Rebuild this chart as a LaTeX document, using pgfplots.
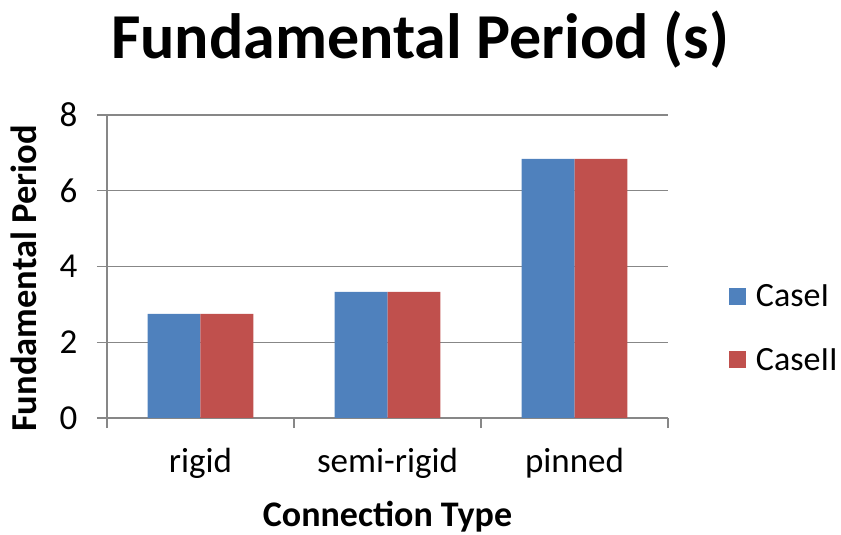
\documentclass[border=0pt]{standalone}
\usepackage{pgfplots}
\pgfplotsset{compat=1.18}
\usepackage{fontspec}
\setmainfont{Carlito}
\definecolor{cblue}{HTML}{4F81BD}
\definecolor{cred}{HTML}{C0504D}
\definecolor{axgray}{HTML}{878787}
\begin{document}
\begin{tikzpicture}
\useasboundingbox (-107pt,-117pt) rectangle (734pt,418pt);
\begin{axis}[
  at={(0pt,0pt)}, anchor=south west,
  scale only axis, width=561pt, height=303pt,
  xmin=-0.5, xmax=2.5, ymin=0, ymax=8,
  ytick={0,2,4,6,8},
  xtick={0,1,2},
  xticklabels={rigid,semi-rigid,pinned},
  minor xtick={-0.5,0.5,1.5,2.5},
  axis x line*=bottom, axis y line*=left,
  axis line style={axgray, line width=1.2pt, -},
  tick align=outside,
  major tick length=10pt, minor tick length=10pt,
  major x tick style={draw=none},
  minor x tick style={axgray, line width=1.2pt},
  y tick style={axgray, line width=1.2pt},
  ymajorgrids, grid style={axgray, line width=1.2pt},
  /pgf/number format/assume math mode=true,
  tick label style={font=\fontsize{35}{35}\selectfont, text=black},
  yticklabel style={xshift=-16pt},
  xticklabel style={yshift=-17pt},
  ylabel={\textbf{Fundamental Period}},
  xlabel={\textbf{Connection Type}},
  ylabel style={font=\fontsize{36.5}{36.5}\selectfont, at={(axis description cs:0,0.5)}, anchor=south, yshift=67pt, xshift=-12pt},
  xlabel style={font=\fontsize{36}{36}\selectfont, at={(axis description cs:0.5,0)}, anchor=north, yshift=-80pt},
  ybar=0pt, bar width=0.283,
  legend style={draw=none, fill=none, at={(1.103,0.297)}, anchor=west,
    font=\fontsize{34}{34}\selectfont, row sep=36pt,
    legend cell align=left,
    /tikz/every odd column/.append style={column sep=8pt}},
  legend image code/.code={\fill[#1,draw=none] (0pt,-8.5pt) rectangle (17pt,8.5pt);},
]
\addplot[fill=cblue, draw=none] coordinates {(0,2.75) (1,3.33) (2,6.84)};
\addplot[fill=cred, draw=none] coordinates {(0,2.75) (1,3.33) (2,6.84)};
\legend{CaseI,CaseII}
\end{axis}
\node[font=\fontsize{64}{64}\selectfont\bfseries] at (313pt,378pt) {Fundamental Period (s)};
\end{tikzpicture}
\end{document}
